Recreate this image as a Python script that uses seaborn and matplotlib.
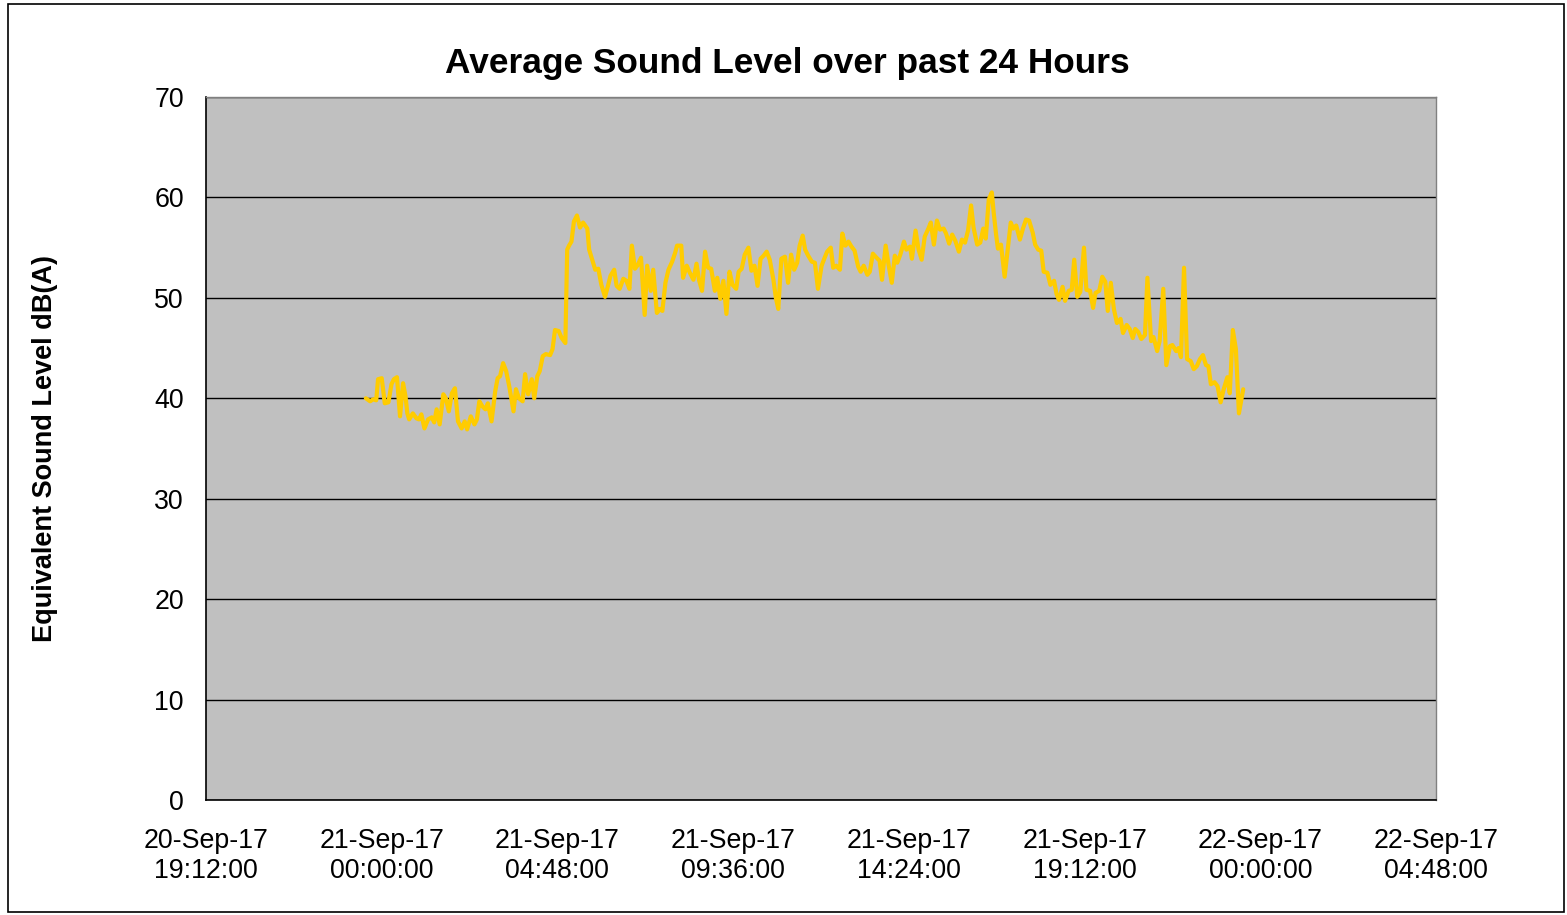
import matplotlib
matplotlib.use("Agg")
import matplotlib.pyplot as plt
import matplotlib.dates as mdates
from matplotlib.patches import Rectangle
import pandas as pd
import seaborn as sns

# Five-minute averaged readings (clock times of each sample)
times_sep20 = ["23:34", "23:41", "23:46", "23:51", "23:54"]
times_sep21 = [
    "00:00", "00:05", "00:11", "00:16", "00:20", "00:25", "00:30", "00:35", "00:39", "00:42",
    "00:45", "00:51", "00:57", "01:01", "01:05", "01:10", "01:16", "01:22", "01:26", "01:30",
    "01:35", "01:41", "01:45", "01:50", "01:55", "02:00", "02:05", "02:11", "02:16", "02:20",
    "02:26", "02:32", "02:36", "02:40", "02:45", "02:50", "02:54", "03:00", "03:06", "03:10",
    "03:14", "03:19", "03:24", "03:29", "03:36", "03:40", "03:45", "03:51", "03:55", "04:00",
    "04:06", "04:10", "04:15", "04:19", "04:24", "04:29", "04:36", "04:40", "04:44", "04:50",
    "04:55", "05:01", "05:04", "05:07", "05:11", "05:15", "05:20", "05:25", "05:30", "05:37",
    "05:40", "05:46", "05:50", "05:55", "06:00", "06:06", "06:10", "06:15", "06:21", "06:25",
    "06:30", "06:36", "06:41", "06:46", "06:50", "06:55", "07:00", "07:05", "07:11", "07:15",
    "07:21", "07:25", "07:31", "07:36", "07:40", "07:45", "07:50", "07:56", "08:01", "08:04",
    "08:11", "08:14", "08:20", "08:25", "08:31", "08:36", "08:40", "08:45", "08:50", "08:55",
    "09:00", "09:06", "09:10", "09:15", "09:20", "09:25", "09:30", "09:35", "09:41", "09:45",
    "09:50", "09:55", "10:01", "10:06", "10:11", "10:16", "10:21", "10:26", "10:31", "10:36",
    "10:42", "10:46", "10:50", "10:55", "11:01", "11:06", "11:11", "11:16", "11:21", "11:25",
    "11:30", "11:34", "11:39", "11:45", "11:50", "11:55", "12:01", "12:06", "12:10", "12:16",
    "12:20", "12:25", "12:31", "12:35", "12:40", "12:45", "12:50", "12:55", "13:01", "13:05",
    "13:10", "13:16", "13:20", "13:25", "13:31", "13:36", "13:40", "13:46", "13:51", "13:56",
    "14:01", "14:05", "14:10", "14:16", "14:20", "14:26", "14:29", "14:35", "14:40", "14:45",
    "14:50", "14:56", "15:00", "15:05", "15:10", "15:15", "15:21", "15:25", "15:30", "15:35",
    "15:40", "15:46", "15:51", "15:56", "16:01", "16:06", "16:10", "16:16", "16:21", "16:26",
    "16:30", "16:35", "16:40", "16:43", "16:47", "16:50", "16:55", "17:01", "17:06", "17:11",
    "17:15", "17:20", "17:26", "17:31", "17:36", "17:41", "17:47", "17:51", "17:56", "18:01",
    "18:05", "18:11", "18:16", "18:22", "18:26", "18:30", "18:36", "18:40", "18:46", "18:51",
    "18:55", "19:00", "19:05", "19:11", "19:15", "19:21", "19:26", "19:30", "19:36", "19:41",
    "19:46", "19:50", "19:55", "20:00", "20:05", "20:11", "20:15", "20:21", "20:26", "20:31",
    "20:35", "20:40", "20:45", "20:51", "20:55", "21:01", "21:05", "21:11", "21:15", "21:21",
    "21:26", "21:32", "21:36", "21:42", "21:46", "21:50", "21:55", "22:00", "22:06", "22:11",
    "22:16", "22:21", "22:26", "22:31", "22:35", "22:39", "22:45", "22:50", "22:55", "23:00",
    "23:06", "23:10", "23:15", "23:20", "23:25", "23:32",
]

# Equivalent sound level, dB(A)
levels_sep20 = [40.0, 39.7, 39.9, 39.8, 41.9]
levels_sep21 = [
    42.0, 39.5, 39.6, 41.4, 41.9, 42.1, 38.2, 41.5, 40.2, 38.5,
    37.9, 38.5, 38.0, 37.9, 38.4, 37.0, 37.9, 38.1, 37.6, 38.9,
    37.4, 40.4, 40.0, 38.7, 40.5, 41.0, 37.7, 37.0, 37.7, 36.9,
    38.2, 37.4, 37.9, 39.7, 39.2, 38.9, 39.5, 37.7, 40.7, 42.0,
    42.2, 43.5, 42.7, 41.2, 38.7, 40.9, 40.0, 39.7, 42.4, 40.4,
    41.9, 40.0, 42.2, 42.7, 44.2, 44.4, 44.3, 44.9, 46.8, 46.7,
    46.0, 45.5, 54.8, 55.2, 55.6, 57.6, 58.2, 57.0, 57.5, 56.9,
    54.8, 53.6, 52.8, 52.9, 51.3, 50.1, 51.0, 52.2, 52.8, 51.2,
    50.9, 51.9, 51.7, 50.9, 55.2, 52.9, 53.3, 54.0, 48.3, 53.2,
    50.7, 52.8, 48.5, 48.9, 48.7, 51.5, 52.8, 53.6, 54.5, 55.2,
    55.2, 52.0, 53.2, 52.5, 51.8, 53.4, 51.8, 50.7, 54.6, 53.0,
    52.9, 50.7, 52.0, 49.9, 51.7, 48.4, 52.6, 51.3, 50.9, 52.6,
    52.9, 54.3, 55.0, 52.7, 53.2, 51.2, 53.9, 54.2, 54.6, 53.8,
    51.8, 50.0, 48.9, 53.9, 54.1, 51.5, 54.3, 52.8, 53.5, 55.2,
    56.2, 54.8, 54.2, 53.6, 53.5, 50.9, 53.2, 54.0, 54.6, 55.0,
    53.0, 53.2, 52.8, 56.4, 55.2, 55.6, 55.1, 54.7, 53.1, 52.6,
    53.2, 52.3, 52.6, 54.4, 54.0, 53.7, 51.8, 55.2, 53.2, 51.5,
    54.2, 53.5, 54.3, 55.6, 54.8, 55.1, 53.9, 56.7, 54.8, 53.8,
    56.1, 56.9, 57.5, 55.3, 57.7, 56.8, 56.9, 56.4, 55.4, 56.3,
    55.7, 54.6, 55.8, 55.5, 56.7, 59.2, 57.0, 55.3, 55.5, 56.9,
    55.9, 59.8, 60.5, 58.5, 56.3, 54.9, 55.3, 52.1, 54.8, 57.5,
    56.9, 57.2, 55.8, 56.9, 57.8, 57.7, 56.5, 55.3, 54.8, 54.7,
    52.6, 52.5, 51.3, 51.7, 50.4, 49.8, 51.1, 49.7, 50.7, 50.8,
    53.8, 50.1, 50.6, 55.0, 50.8, 50.7, 49.0, 50.5, 50.7, 52.1,
    51.6, 48.7, 51.5, 48.9, 47.5, 47.9, 46.5, 47.3, 46.9, 46.0,
    46.9, 46.6, 45.9, 46.3, 52.0, 45.7, 46.1, 44.7, 45.7, 50.9,
    43.3, 45.2, 45.3, 44.7, 45.0, 44.1, 53.0, 43.9, 43.7, 42.9,
    43.2, 43.9, 44.3, 43.3, 43.2, 41.4, 41.6, 41.2, 39.6, 40.9,
    42.1, 40.5, 46.8, 44.9, 38.5, 40.9,
]

y_ticks = [0, 10, 20, 30, 40, 50, 60, 70]
x_start = "2017-09-20 19:12"
x_end = "2017-09-22 04:48"
x_step = pd.Timedelta(hours=4, minutes=48)

title_text = "Average Sound Level over past 24 Hours"
y_label = "Equivalent Sound Level dB(A)"

stamps = ["2017-09-20 " + t for t in times_sep20] + ["2017-09-21 " + t for t in times_sep21]
df = pd.DataFrame({"time": pd.to_datetime(stamps), "level": levels_sep20 + levels_sep21})

sns.set_style("white")
plt.rcParams["font.family"] = ["Liberation Sans", "DejaVu Sans"]
plt.rcParams["text.color"] = "black"
plt.rcParams["axes.labelcolor"] = "black"
plt.rcParams["xtick.color"] = "black"
plt.rcParams["ytick.color"] = "black"

fig = plt.figure(figsize=(15.67, 9.15), dpi=100)
fig.patch.set_facecolor("white")
ax = fig.add_axes([206 / 1567, 1 - 800 / 915, 1230 / 1567, 703 / 915])
ax.set_facecolor("#C0C0C0")

sns.lineplot(data=df, x="time", y="level", ax=ax, color="#FFCC00",
             linewidth=3.0, estimator=None, zorder=3)

ax.set_ylim(0, 70)
ax.set_yticks(y_ticks)
ax.yaxis.grid(True, color="black", linewidth=1.0, zorder=1)
ax.xaxis.grid(False)
ax.set_axisbelow(True)

t0 = pd.Timestamp(x_start)
t1 = pd.Timestamp(x_end)
ax.set_xlim(t0, t1)
xt = []
t = t0
while t <= t1:
    xt.append(t)
    t = t + x_step
ax.set_xticks(xt)
ax.xaxis.set_major_formatter(mdates.DateFormatter("%d-%b-%y\n%H:%M:%S"))

ax.tick_params(axis="both", which="major", direction="out", length=6, width=1,
               color="black", labelsize=19.3, labelcolor="black")
ax.tick_params(axis="x", pad=14)
ax.tick_params(axis="y", pad=10)
for lbl in ax.get_xticklabels():
    lbl.set_horizontalalignment("center")
    lbl.set_linespacing(1.2)

for side in ["left", "bottom"]:
    ax.spines[side].set_color("black")
    ax.spines[side].set_linewidth(1.2)
for side in ["top", "right"]:
    ax.spines[side].set_color("#808080")
    ax.spines[side].set_linewidth(1.0)
    ax.spines[side].set_visible(True)

ax.set_xlabel("")
ax.set_ylabel(y_label, fontsize=19.5, fontweight="bold", color="black")
ax.yaxis.set_label_coords((58 - 206) / 1230, 0.5)
fig.text(787 / 1567, 1 - 63 / 915, title_text, ha="center", va="center",
         fontsize=25.4, fontweight="bold", color="black")

fig.add_artist(Rectangle((8 / 1567, 3 / 915), 1556 / 1567, 908 / 915,
                         transform=fig.transFigure, fill=False,
                         edgecolor="black", linewidth=1.2))

fig.savefig("out.png", dpi=100, facecolor="white")
